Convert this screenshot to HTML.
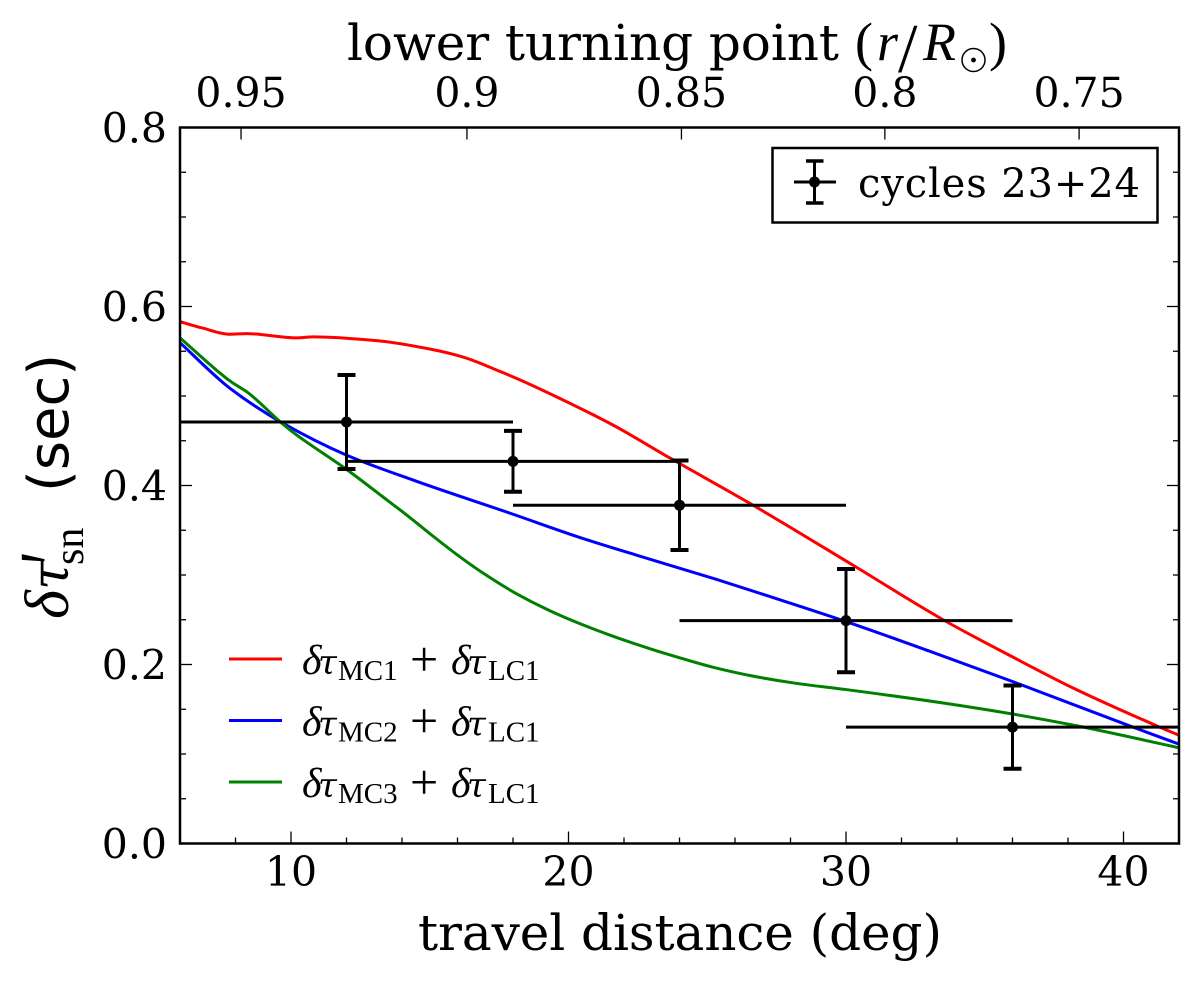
<!DOCTYPE html>
<html lang="en">
<head>
<meta charset="utf-8">
<title>Travel-time shift chart</title>
<style>
html,body{margin:0;padding:0;background:#fff;}
svg{display:block;}
text{fill:#000;}
.serif{font-family:"DejaVu Serif","Liberation Serif",serif;}
.sans{font-family:"DejaVu Sans","Liberation Sans",sans-serif;}
.math{font-family:"Liberation Serif","DejaVu Serif",serif;}
.tau{font-family:"DejaVu Serif","Liberation Serif",serif;font-style:italic;}
</style>
</head>
<body>
<svg id="chart" xmlns="http://www.w3.org/2000/svg" width="1200" height="982" viewBox="0 0 1200 982">
  <defs><clipPath id="plot-clip"><rect x="180" y="127.5" width="999" height="716"/></clipPath></defs>
  <rect x="0" y="0" width="1200" height="982" fill="#fff"/>
  <g id="series" clip-path="url(#plot-clip)"></g>
  <g id="errs" clip-path="url(#plot-clip)"></g>
  <g id="ticks"></g>
  <rect x="180" y="127.5" width="999" height="716" fill="none" stroke="#000" stroke-width="2.5"/>

  <text y="60"><tspan class="serif" x="347" font-size="50" textLength="492">lower turning point</tspan><tspan class="math" x="855" font-size="54">(</tspan><tspan class="math" x="877" font-size="54" font-style="italic">r</tspan><tspan class="math" x="923" font-size="54" font-style="italic">R</tspan><tspan class="math" x="989" font-size="54">)</tspan></text>
  <text class="math" x="898" y="72" font-size="70">/</text>
  <circle cx="973.5" cy="60" r="11.5" fill="none" stroke="#000" stroke-width="1.5"/>
  <circle cx="973.5" cy="60" r="2.4" fill="#000"/>

  <text class="serif" x="418" y="950" font-size="50" textLength="524">travel distance (deg)</text>

  <g>
    <text class="math" transform="translate(68,619) rotate(-90)" font-size="62" font-style="italic">δ</text>
    <text class="tau" transform="translate(68,590) rotate(-90)" font-size="52">τ</text>
    <text class="math" transform="translate(85,568) rotate(-90) scale(1,1.6)" font-size="60" font-style="italic">′</text>
    <text class="math" transform="translate(83,565) rotate(-90)" font-size="42">sn</text>
    <text class="sans" transform="translate(68,492) rotate(-90)" font-size="56">(sec)</text>
  </g>

  <g>
    <rect x="772.5" y="148" width="385" height="74.5" fill="#fff" stroke="#000" stroke-width="2.5"/>
    <line x1="794" x2="836" y1="182" y2="182" stroke="#000" stroke-width="3"/>
    <line x1="814.5" x2="814.5" y1="161" y2="203" stroke="#000" stroke-width="3"/>
    <line x1="806" x2="823.5" y1="161" y2="161" stroke="#000" stroke-width="3.5"/>
    <line x1="806" x2="823.5" y1="203" y2="203" stroke="#000" stroke-width="3.5"/>
    <circle cx="814.5" cy="182" r="5.5" fill="#000"/>
    <text class="serif" x="858" y="197" font-size="40" textLength="282">cycles 23+24</text>
  </g>

  <g>
    <line x1="229" x2="282" y1="659" y2="659" stroke="#ff0000" stroke-width="3"/>
    <text class="math" y="674"><tspan x="302" font-size="42" font-style="italic">δ</tspan><tspan class="tau" x="318" font-size="34">τ</tspan><tspan x="338" dy="6" font-size="29">MC1</tspan><tspan x="410" dy="-4" font-size="50">+</tspan><tspan x="451" dy="-2" font-size="42" font-style="italic">δ</tspan><tspan class="tau" x="467" font-size="34">τ</tspan><tspan x="488" dy="6" font-size="29">LC1</tspan></text>
    <line x1="229" x2="282" y1="720.5" y2="720.5" stroke="#0000ff" stroke-width="3"/>
    <text class="math" y="735.5"><tspan x="302" font-size="42" font-style="italic">δ</tspan><tspan class="tau" x="318" font-size="34">τ</tspan><tspan x="338" dy="6" font-size="29">MC2</tspan><tspan x="410" dy="-4" font-size="50">+</tspan><tspan x="451" dy="-2" font-size="42" font-style="italic">δ</tspan><tspan class="tau" x="467" font-size="34">τ</tspan><tspan x="488" dy="6" font-size="29">LC1</tspan></text>
    <line x1="229" x2="282" y1="782" y2="782" stroke="#008000" stroke-width="3"/>
    <text class="math" y="797"><tspan x="302" font-size="42" font-style="italic">δ</tspan><tspan class="tau" x="318" font-size="34">τ</tspan><tspan x="338" dy="6" font-size="29">MC3</tspan><tspan x="410" dy="-4" font-size="50">+</tspan><tspan x="451" dy="-2" font-size="42" font-style="italic">δ</tspan><tspan class="tau" x="467" font-size="34">τ</tspan><tspan x="488" dy="6" font-size="29">LC1</tspan></text>
  </g>
</svg>
<script>
// ---- data ----
const redDist   = [6, 6.8, 7.8, 8.4, 10.2, 10.8, 13.2, 15, 16.2, 17.53, 18.25, 19.57, 21.6, 23.66, 26.65, 30.25, 33.5, 36, 38.2, 41.27, 42];
const redVals   = [0.583, 0.576, 0.569, 0.5697, 0.565, 0.566, 0.5615, 0.5525, 0.5435, 0.5275, 0.518, 0.499, 0.4676, 0.4306, 0.378, 0.311, 0.25, 0.2085, 0.1735, 0.1305, 0.121];
const blueDist  = [6, 7.8, 9.7, 12, 14.5, 17.9, 20.5, 22.9, 25.34, 27.3, 30, 33, 36, 40.3, 42];
const blueVals  = [0.5595, 0.5086, 0.4698, 0.434, 0.405, 0.369, 0.341, 0.318, 0.295, 0.2755, 0.248, 0.215, 0.181, 0.1305, 0.111];
const greenDist = [6, 7.8, 8.45, 9.7, 10.2, 12, 13.45, 14.17, 15, 15.97, 17, 18.13, 19.3, 20.5, 21.7, 22.9, 23.9, 25.2, 26.65, 28.2, 30, 33.5, 36, 38.4, 42];
const greenVals = [0.565, 0.5168, 0.5037, 0.4687, 0.4565, 0.418, 0.384, 0.367, 0.3463, 0.323, 0.3005, 0.279, 0.2605, 0.2445, 0.2305, 0.218, 0.2085, 0.197, 0.187, 0.179, 0.172, 0.157, 0.1447, 0.131, 0.107];
const pointDist = [12, 18, 24, 30, 36];
const pointVals = [0.471, 0.427, 0.378, 0.249, 0.13];
const pointYErr = [0.0525, 0.034, 0.05, 0.0577, 0.0465];
const pointXErr = [6, 6, 6, 6, 6];
const xTickLabels = ['10', '20', '30', '40'];
const xMinorTicks = [8, 12, 14, 16, 18, 22, 24, 26, 28, 32, 34, 36, 38, 42];
const yTickLabels = ['0.0', '0.2', '0.4', '0.6', '0.8'];
const yMinorTicks = [0.05, 0.1, 0.15, 0.25, 0.3, 0.35, 0.45, 0.5, 0.55, 0.65, 0.7, 0.75];
const topTickLabels = ['0.95', '0.9', '0.85', '0.8', '0.75'];
const topTickDist = [8.2, 16.34, 24.07, 31.4, 38.4];

// ---- axis functions ----
const xScale = d => 180 + (d - 6) / 36 * 999;
const yScale = v => 843.5 - v / 0.8 * 716;

const NS = 'http://www.w3.org/2000/svg';
function mk(parent, tag, attrs) {
  const el = document.createElementNS(NS, tag);
  for (const k in attrs) el.setAttribute(k, attrs[k]);
  parent.appendChild(el);
  return el;
}
const seriesLayer = document.getElementById('series');
const errLayer = document.getElementById('errs');
const tickLayer = document.getElementById('ticks');

// monotone cubic curve through the data points, in pixel space
function linePath(xs, ys) {
  const px = xs.map(xScale), py = ys.map(yScale), n = px.length;
  const s = [];
  for (let i = 0; i < n - 1; i++) s.push((py[i + 1] - py[i]) / (px[i + 1] - px[i]));
  const m = [s[0]];
  for (let i = 1; i < n - 1; i++) m.push(s[i - 1] * s[i] <= 0 ? 0 : 2 * s[i - 1] * s[i] / (s[i - 1] + s[i]));
  m.push(s[n - 2]);
  let d = 'M' + px[0].toFixed(2) + ' ' + py[0].toFixed(2);
  for (let i = 0; i < n - 1; i++) {
    const h = (px[i + 1] - px[i]) / 3;
    d += ' C' + (px[i] + h).toFixed(2) + ' ' + (py[i] + m[i] * h).toFixed(2) + ' ' + (px[i + 1] - h).toFixed(2) + ' ' + (py[i + 1] - m[i + 1] * h).toFixed(2) + ' ' + px[i + 1].toFixed(2) + ' ' + py[i + 1].toFixed(2);
  }
  return d;
}

const redLine = mk(seriesLayer, 'path', {d: linePath(redDist, redVals), fill: 'none', stroke: '#ff0000', 'stroke-width': 3, 'stroke-linejoin': 'round'});


const blueLine = mk(seriesLayer, 'path', {d: linePath(blueDist, blueVals), fill: 'none', stroke: '#0000ff', 'stroke-width': 3, 'stroke-linejoin': 'round'});


const greenLine = mk(seriesLayer, 'path', {d: linePath(greenDist, greenVals), fill: 'none', stroke: '#008000', 'stroke-width': 3, 'stroke-linejoin': 'round'});



pointDist.forEach((d, i) => {
  const x = xScale(d), y = yScale(pointVals[i]);
  const yTop = yScale(pointVals[i] + pointYErr[i]), yBot = yScale(pointVals[i] - pointYErr[i]);
  const h = mk(errLayer, 'line', {x1: xScale(d - pointXErr[i]), x2: xScale(d + pointXErr[i]), y1: y, y2: y, stroke: '#000', 'stroke-width': 3});
  
  
  const v = mk(errLayer, 'line', {x1: x, x2: x, y1: yTop, y2: yBot, stroke: '#000', 'stroke-width': 3});
  
  
  const c1 = mk(errLayer, 'line', {x1: x - 9, x2: x + 9, y1: yTop, y2: yTop, stroke: '#000', 'stroke-width': 4});
  
  
  const c2 = mk(errLayer, 'line', {x1: x - 9, x2: x + 9, y1: yBot, y2: yBot, stroke: '#000', 'stroke-width': 4});
  
  
  const m = mk(errLayer, 'circle', {cx: x, cy: y, r: 5.5, fill: '#000'});
  
  
});

function tickLine(x1, y1, x2, y2, w) {
  return mk(tickLayer, 'line', {x1: x1, y1: y1, x2: x2, y2: y2, stroke: '#000', 'stroke-width': w});
}
const BOTTOM = yScale(0), TOP = yScale(0.8), LEFT = xScale(6), RIGHT = xScale(42);
const serifFont = '"DejaVu Serif","Liberation Serif",serif';

xTickLabels.forEach(lab => {
  const x = xScale(parseFloat(lab));
  const t = tickLine(x, BOTTOM, x, BOTTOM - 12, 1.3);
  
  
  const txt = mk(tickLayer, 'text', {x: x, y: 886, 'text-anchor': 'middle', 'font-size': 41, 'font-family': serifFont});
  txt.textContent = lab;
  
  
});
xMinorTicks.forEach(d => {
  const t = tickLine(xScale(d), BOTTOM, xScale(d), BOTTOM - 6, 1.3);
  
  
});
yTickLabels.forEach(lab => {
  const y = yScale(parseFloat(lab));
  const a = tickLine(LEFT, y, LEFT + 12, y, 1.3);
  
  
  const b = tickLine(RIGHT, y, RIGHT - 12, y, 1.3);
  
  
  const txt = mk(tickLayer, 'text', {x: 167, y: y + 15, 'text-anchor': 'end', 'font-size': 41, 'font-family': serifFont});
  txt.textContent = lab;
  
  
});
yMinorTicks.forEach(v => {
  const y = yScale(v);
  const a = tickLine(LEFT, y, LEFT + 6, y, 1.3);
  
  
  const b = tickLine(RIGHT, y, RIGHT - 6, y, 1.3);
  
  
});
topTickLabels.forEach((lab, i) => {
  const x = xScale(topTickDist[i]);
  const t = tickLine(x, TOP, x, TOP + 12, 1.3);
  
  
  const txt = mk(tickLayer, 'text', {x: x, y: 107, 'text-anchor': 'middle', 'font-size': 41, 'font-family': serifFont});
  txt.textContent = lab;
  
  
});
</script>
</body>
</html>
